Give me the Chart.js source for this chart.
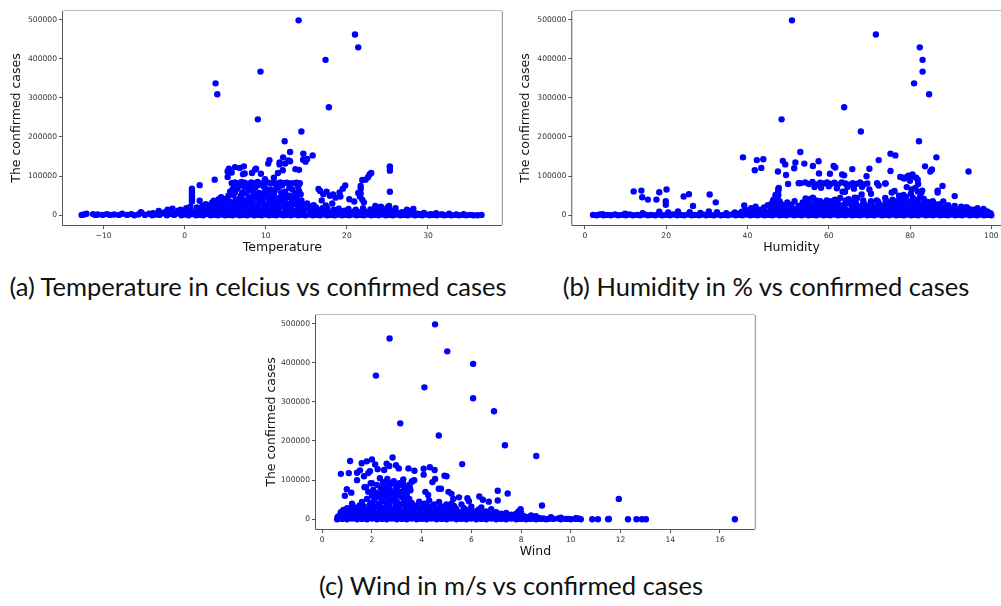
<!DOCTYPE html>
<html>
<head>
<meta charset="utf-8">
<script src="https://cdn.jsdelivr.net/npm/chart.js@4.4.0/dist/chart.umd.min.js"></script>
<style>
  body { margin: 0; width: 1001px; height: 606px; overflow: hidden; background: #fff; position: relative; }
  canvas { position: absolute; }
  .caption { position: absolute; width: 600px; text-align: center; white-space: nowrap;
             font-family: Lato, sans-serif; font-size: 25.5px; line-height: 30px; color: #111; }
</style>
</head>
<body>
<canvas id="tempChart" width="505" height="260" style="left:0px;top:0px"></canvas>
<canvas id="humidityChart" width="505" height="260" style="left:509px;top:0px"></canvas>
<canvas id="windChart" width="505" height="260" style="left:253px;top:304px"></canvas>
<div class="caption" style="left:-42px;top:271px">(a) Temperature in celcius vs confirmed cases</div>
<div class="caption" style="left:466px;top:271px">(b) Humidity in % vs confirmed cases</div>
<div class="caption" style="left:211px;top:570px">(c) Wind in m/s vs confirmed cases</div>
<script>
// tick labels
const caseTicks = [0, 100000, 200000, 300000, 400000, 500000];
const tempTicks = [-10, 0, 10, 20, 30];
const humidityTicks = [0, 20, 40, 60, 80, 100];
const windTicks = [0, 2, 4, 6, 8, 10, 12, 14, 16];

// [temperature in celcius, confirmed cases in thousands]
const tempPoints = [
  [-12.7,1],[-12.4,2],[-12.1,4],[-11.3,3],[-11.0,1],[-10.7,2],[-10.1,1],[-9.6,3],[-9.2,1],[-8.7,2],[-8.1,1],[-7.7,4],
  [-7.1,1],[-6.6,3],[-6.2,0],[-5.7,2],[-5.3,6],[-4.9,1],[-4.4,4],[-4.0,0],[-3.6,2],[-3.1,1],[-2.7,5],[-2.2,0],
  [-1.8,3],[-1.3,1],[-0.9,6],[-0.4,0],[0.1,2],[0.5,0],[1.0,3],[1.4,0],[1.9,1],[2.3,0],[2.8,3],[3.2,0],[3.7,1],
  [4.1,0],[4.6,2],[5.0,0],[5.5,1],[5.9,0],[6.4,2],[6.8,0],[7.3,1],[7.7,0],[8.2,2],[8.6,0],[9.1,1],[9.5,0],
  [10.0,2],[10.4,0],[10.9,1],[11.3,0],[11.8,2],[12.2,0],[12.7,1],[13.1,0],[13.6,2],[14.0,0],[14.5,1],[14.9,0],
  [15.4,2],[15.8,0],[16.3,1],[16.7,0],[17.2,2],[17.6,0],[18.1,1],[18.5,0],[19.0,2],[19.4,0],[19.9,1],[20.3,0],
  [20.8,2],[21.2,0],[21.7,1],[22.1,0],[22.6,2],[23.0,0],[23.5,1],[23.9,0],[24.4,2],[24.8,0],[25.3,1],[25.7,0],
  [26.2,2],[26.6,0],[27.1,1],[27.5,0],[28.0,2],[28.4,0],[28.9,1],[29.3,0],[29.8,2],[30.2,0],[30.7,1],[31.1,0],
  [31.6,2],[32.0,0],[32.5,1],[32.9,0],[33.4,1],[33.8,0],[34.3,1],[34.7,0],[35.2,1],[35.6,0],[36.1,0],[36.6,1],
  [-5.4,8],[-3.2,11],[-2.1,14],[-1.6,9],[-0.8,12],[-0.2,7],[0.6,15],[1.2,10],[1.9,18],[2.4,12],[2.9,20],[3.3,9],
  [3.8,16],[4.4,22],[4.9,12],[5.3,19],[5.8,9],[6.3,24],[6.7,14],[7.2,20],[7.6,11],[8.1,26],[8.6,15],[9.1,21],
  [9.6,10],[10.1,25],[10.6,13],[11.1,19],[11.6,9],[12.1,22],[12.6,14],[13.1,18],[13.6,10],[14.1,20],[14.6,12],
  [15.2,17],[15.7,9],[16.3,14],[16.8,8],[17.4,12],[18.0,7],[18.6,10],[19.2,6],[19.8,9],[20.4,7],[21.0,11],
  [21.6,8],[22.2,10],[22.8,7],[23.4,12],[24.0,20],[24.5,9],[25.0,16],[25.6,11],[26.2,6],[26.8,8],[27.5,5],
  [28.1,12],[28.7,4],[29.5,6],[30.3,3],[31.0,5],[31.8,2],[32.6,4],[33.5,2],[34.4,3],
  [-3.9,5],[-2.5,7],[-1.1,4],[0.3,8],[0.8,5],[1.6,6],[2.1,9],[2.6,5],[3.5,7],[4.0,11],[4.7,6],[5.2,9],[5.7,14],
  [6.1,7],[6.6,10],[7.0,16],[7.5,6],[8.0,12],[8.4,8],[8.9,14],[9.3,6],[9.8,17],[10.3,8],[10.8,11],[11.3,15],
  [11.7,6],[12.4,9],[12.9,12],[13.3,5],[13.9,14],[14.4,7],[14.8,16],[15.5,5],[16.0,11],[16.6,4],[17.0,6],
  [17.8,4],[18.3,5],[18.9,3],[19.6,5],[20.1,4],[20.6,6],[21.3,5],[21.9,4],[22.4,6],[23.2,5],[23.7,7],[24.3,9],
  [24.8,6],[25.4,7],[26.5,4],[27.8,3],[29.1,3],[30.6,2],
  [0.2,18],[0.7,22],[1.5,20],[2.0,14],[2.7,16],[3.1,24],[3.9,19],[4.3,14],
  [15.0,24],[15.6,14],[16.1,19],[16.9,15],[17.6,18],[18.4,14],[19.0,17],[19.7,12],[20.2,16],[21.1,14],[22.0,18],
  [22.9,15],[23.8,16],[24.6,13],[25.2,24],
  [2.6,28],[3.4,33],[4.1,30],[4.8,42],[5.5,35],[6.1,29],[6.6,38],[7.3,33],[7.9,44],[8.4,31],[9.2,36],[9.8,28],
  [10.4,40],[10.9,32],[11.4,27],[12.0,36],[12.6,30],[13.2,41],[13.9,33],[14.5,27],[15.1,30],[15.9,26],
  [2.2,24],[3.0,26],[3.6,21],[4.3,29],[5.1,25],[5.9,22],[6.4,31],[6.9,26],[7.5,24],[8.2,30],[8.9,25],[9.5,32],
  [10.0,23],[10.7,27],[11.2,34],[11.8,24],[12.3,29],[12.9,24],[13.6,28],[14.3,23],[15.4,22],[16.2,20],[17.0,18],
  [4.8,34],[6.3,40],[7.7,36],[9.0,47],[10.3,50],[11.6,44],[12.7,47],[14.4,38],[8.6,55],[7.1,58],[11.1,62],
  [13.6,56],[9.9,60],[6.0,52],
  [4.6,18],[5.0,28],[5.4,50],[5.8,33],[6.2,58],[6.4,18],[6.9,48],[7.2,40],[7.6,56],[7.8,28],[8.1,65],[8.5,42],
  [8.8,22],[9.0,77],[9.3,50],[9.6,38],[10.0,68],[10.2,56],[10.5,30],[10.9,48],[11.3,76],[11.6,36],[11.9,58],
  [12.2,50],[12.6,20],[12.9,70],[13.2,30],[13.6,44],[14.0,74],[14.3,54],[5.9,66],[6.8,76],[8.0,73],[9.8,47],
  [12.0,76],[13.9,38],
  [5.8,82],[6.2,84],[6.6,81],[7.0,85],[7.4,83],[7.8,80],[8.2,84],[8.6,82],[9.0,85],[9.4,81],[9.8,83],[10.2,84],
  [10.6,82],[11.0,83],[11.4,81],[11.8,84],[12.2,82],[12.6,83],[13.0,81],[13.4,82],[13.8,83],[14.2,82],
  [5.6,60],[6.1,75],[6.5,68],[7.0,52],[7.4,72],[7.9,63],[8.3,48],[8.7,70],[9.2,57],[9.7,74],[10.1,46],[10.6,66],
  [11.0,55],[11.5,71],[11.9,44],[12.4,60],[12.9,50],[13.3,66],[13.8,47],[14.1,62],[6.8,43],[8.0,38],[9.4,40],
  [10.8,36],[12.3,39],[13.5,35],[5.2,40],[4.5,46],
  [0.9,68],[0.9,63],[0.9,58],[0.9,52],[0.9,46],[0.9,41],[0.9,35],[1.85,77],[1.85,37],[3.7,91],[3.6,37],[4.2,41],
  [-0.5,14],[-1.5,17],
  [5.3,98],[5.3,112],[5.45,119],[5.8,109],[6.2,123],[6.8,121],[7.3,125],[7.2,105],[7.4,107],[8.3,108],[8.7,117],
  [8.8,119],[9.4,106],[10.3,132],[10.45,141],[11.7,135],[11.7,130],[11.5,108],[12.1,115],[12.14,148],[12.4,132],
  [12.8,140],[13.0,138],[13.0,161.5],[13.65,118],[14.1,116],[14.6,142],[14.9,137],[15.1,144],[14.63,157],
  [15.78,153],[12.33,189],[14.39,214],[11.0,96],[9.9,92],
  [16.5,67],[16.7,62],[17.1,54],[17.5,60],[17.9,50],[18.3,53],[18.6,45],[19.1,58],[19.5,68],[19.8,76],[19.2,48],
  [20.3,41],[18.2,30],[16.9,38],[17.4,25],[20.9,35],[21.4,57],[21.7,75],[21.7,67],[21.7,55],[21.9,40],[21.6,48],
  [22.1,33],[21.9,90],[22.3,91],[22.6,97],[22.8,104],[23.0,108],[25.3,125],[25.3,121],[25.3,114],[25.3,60],
  [24.2,22],[25.0,20],[26.0,18],[23.5,24],[27.4,14],[28.2,16],
  [14.05,498],[21.0,462],[21.4,429],[17.37,397],[9.35,367],[3.81,337],[4.02,309],[17.78,276],[9.02,245]
];

// [humidity in %, confirmed cases in thousands]
const humidityPoints = [
  [2.0,1],[2.9,0],[3.7,2],[4.6,0],[5.6,1],[6.4,0],[7.4,2],[8.2,0],[9.2,1],[10.1,0],[11.0,2],[11.8,0],[12.8,1],
  [13.6,0],[14.6,2],[15.5,0],[16.3,1],[17.3,0],[18.2,2],[19.0,0],[20.0,1],[20.9,0],[21.7,2],[22.7,0],[23.6,1],
  [24.4,0],[25.4,2],[26.3,0],[27.1,1],[28.1,0],[29.0,2],[29.8,0],[30.8,1],[31.7,0],[32.5,2],[33.5,0],[34.4,1],
  [35.2,0],[36.2,2],[37.1,0],[38.0,1],[38.8,0],[39.8,2],[40.7,0],[41.5,1],[42.5,0],[43.4,2],[44.2,0],[45.2,1],
  [46.1,0],[46.9,2],[47.9,0],[48.8,1],[49.6,0],[50.6,2],[51.5,0],[52.3,1],[53.3,0],[54.2,2],[55.0,0],[56.0,1],
  [56.9,0],[57.7,2],[58.7,0],[59.6,1],[60.4,0],[61.4,2],[62.3,0],[63.1,1],[64.1,0],[65.0,2],[65.8,0],[66.8,1],
  [67.7,0],[68.5,2],[69.5,0],[70.4,1],[71.2,0],[72.2,2],[73.1,0],[73.9,1],[74.9,0],[75.8,2],[76.6,0],[77.6,1],
  [78.5,0],[79.3,2],[80.3,0],[81.2,1],[82.0,0],[83.0,2],[83.9,0],[84.7,1],[85.7,0],[86.6,2],[87.4,0],[88.4,1],
  [89.3,0],[90.1,2],[91.1,0],[92.0,1],[92.8,0],[93.8,2],[94.7,0],[95.5,1],[96.5,0],[97.4,2],[98.2,0],[99.2,1],
  [100.0,0],
  [4.4,3],[9.9,4],[14.2,5],[18.3,9],[20.5,7],[22.9,10],[25.8,8],[28.4,6],[30.5,10],[32.5,8],[34.8,5],[36.9,7],
  [38.6,9],[39.5,14],[40.6,7],[41.7,12],[42.8,6],[43.9,15],[44.9,9],[45.9,18],[46.8,11],[47.7,22],[48.6,13],
  [49.5,20],[50.4,8],[51.3,16],[52.2,10],[53.1,19],[54.0,12],[54.9,24],[55.8,9],[56.7,17],[57.6,13],[58.5,21],
  [59.4,8],[60.3,15],[61.2,11],[62.1,23],[63.0,14],[63.9,19],[64.8,10],[65.7,17],[66.6,12],[67.5,21],[68.4,9],
  [69.3,16],[70.2,13],[71.1,22],[72.0,10],[72.9,18],[73.8,14],[74.7,25],[75.6,11],[76.5,20],[77.4,15],[78.3,24],
  [79.2,12],[80.1,27],[81.0,16],[81.9,30],[82.8,14],[83.7,23],[84.6,11],[85.5,19],[86.4,13],[87.3,17],[88.2,9],
  [89.1,15],[90.0,11],[90.9,14],[91.8,8],[92.7,18],[93.6,10],[94.5,16],[95.4,9],[96.3,12],[97.2,7],[98.1,16],
  [99.0,10],[99.8,5],
  [38.2,5],[39.1,3],[40.2,4],[41.1,9],[42.2,3],[43.0,8],[44.6,4],[45.5,10],[46.5,6],[47.3,14],[48.2,8],[49.1,12],
  [50.0,5],[50.9,11],[51.8,6],[52.7,13],[53.6,7],[54.5,10],[55.4,15],[56.3,6],[57.2,11],[58.1,8],[59.0,14],
  [59.9,6],[60.8,12],[61.7,7],[62.6,16],[63.5,8],[64.4,13],[65.3,6],[66.2,11],[67.1,8],[68.0,14],[68.9,6],
  [69.8,10],[70.7,7],[71.6,15],[72.5,6],[73.4,12],[74.3,9],[75.2,16],[76.1,7],[77.0,12],[77.9,9],[78.8,18],
  [79.7,8],[80.6,14],[81.5,9],[82.4,20],[83.3,8],[84.2,15],[85.1,7],[86.0,12],[86.9,6],[87.8,13],[88.7,6],
  [89.6,9],[90.5,5],[91.4,10],[92.3,4],[93.2,8],[94.1,4],[95.0,7],[95.9,4],[96.8,6],[97.7,5],[98.6,4],[99.5,3],
  [40.9,18],[42.0,22],[43.1,14],[44.1,20],[45.0,26],[46.0,30],[46.2,16],[47.9,36],[48.9,18],[49.8,33],[50.7,20],
  [51.6,36],[52.5,17],[53.4,26],[54.3,18],[55.2,33],[56.0,27],[56.9,38],[57.8,18],[58.7,31],[59.5,17],[60.4,36],
  [61.3,20],[62.2,33],[63.1,19],[64.0,29],[64.9,41],[65.8,23],[66.7,30],[67.6,17],[68.5,38],[69.4,22],[70.3,30],
  [71.2,18],[72.1,35],[73.0,23],[73.9,44],[74.8,18],[75.7,40],[76.6,28],[77.5,21],[78.4,37],[79.3,19],[80.2,35],
  [81.1,24],[82.0,40],[82.9,22],[83.8,33],[84.7,20],[85.6,36],[86.5,18],[87.4,24],[88.3,16],[89.2,21],[90.1,14],
  [91.0,17],[91.9,12],[92.8,14],[93.7,20],[94.6,11],[95.5,14],[96.4,8],[97.3,11],[98.2,9],[99.1,6],
  [47.2,28],[49.0,25],[50.8,27],[52.6,24],[54.4,29],[56.2,22],[58.0,26],[59.8,23],[61.6,28],[63.4,25],[65.2,30],
  [67.0,24],[68.8,27],[70.6,25],[72.4,29],[74.2,22],[76.0,27],[77.8,30],[79.6,24],[81.4,32],[83.2,28],[85.0,25],
  [86.8,22],[88.6,20],[90.4,18],
  [46.3,38],[47.0,45],[47.6,52],[48.2,30],[53.6,33],[54.6,40],[55.5,42],[57.0,28],[57.9,36],[60.6,32],[61.5,40],
  [62.8,44],[64.2,38],[66.2,35],[67.0,44],[68.5,30],[70.4,36],[71.8,38],[74.0,34],[75.3,30],[76.8,36],[78.0,40],
  [79.6,33],[80.7,45],[81.6,38],[82.5,48],[83.4,42],[84.3,34],[85.9,30],[87.2,28],[88.2,35],[89.4,26],[91.0,24],
  [92.6,22],[94.0,20],[96.6,18],
  [47.5,58],[47.6,63],[47.6,67],[47.7,70],[47.4,48],[46.9,52],[46.6,42],
  [53.0,82],[54.2,84],[55.1,80],[56.0,85],[57.0,79],[57.9,83],[58.8,81],[59.6,84],[60.5,80],[61.4,83],[62.3,79],
  [63.2,84],[64.1,81],[65.0,78],[65.9,82],[66.8,80],[67.7,84],[68.6,79],[69.5,81],[56.5,72],[58.1,70],[60.0,74],
  [62.0,69],[64.6,72],[66.2,68],[68.2,73],[70.0,66],[70.4,55],[68.1,53],[64.0,60],[63.4,60],[66.4,45],[59.5,38],
  [56.1,45],[54.3,43],
  [77.6,98],[78.6,94],[79.6,101],[80.6,104],[81.5,96],[80.0,88],[79.2,72],[80.4,66],[81.9,61],[82.8,58],[81.3,70],
  [82.0,80],[83.0,63],[78.4,52],[77.3,50],[76.2,62],[75.5,58],[79.0,47],[80.2,55],[74.3,36],[71.9,82],[73.9,81],
  [72.3,76],
  [12.0,61],[13.9,63],[14.1,46],[15.5,40],[17.6,40],[18.3,59],[19.9,36],[20.1,66],[19.9,27],[24.3,48],[25.6,54],
  [26.6,24],[30.7,53],[32.2,33],[39.2,25],
  [38.9,148],[42.3,141],[43.9,143],[41.8,115],[43.4,121],[48.7,139],[49.3,130],[47.5,112],[49.5,103],[51.8,135],
  [51.5,120],[54.0,132],[56.1,126],[57.5,138],[57.6,107],[50.0,80],[52.6,82],[61.2,126],[61.6,122],[60.3,106],
  [63.3,104],[63.8,102],[65.8,118],[70.0,119],[69.3,100],[72.3,141],[75.2,157],[76.4,153],[75.2,113],[74.0,81],
  [86.5,148],[85.4,117],[85.0,112],[83.7,125],[80.6,101],[79.2,97],[78.3,96],[81.9,91],[94.4,112],[88.0,75],
  [91.0,49],[86.8,63],[86.8,58],[53.0,161.5],
  [50.95,498],[71.6,462],[82.4,429],[83.1,397],[83.1,367],[81.0,337],[84.7,309],[63.8,276],[48.4,245],[67.9,214],
  [82.2,189]
];

// [wind in m/s, confirmed cases in thousands]
const windPoints = [
  [0.6,0],[0.8,1],[1.0,0],[1.2,2],[1.4,0],[1.6,1],[1.8,0],[2.0,2],[2.2,0],[2.4,1],[2.6,0],[2.8,2],[3.0,0],
  [3.2,1],[3.4,0],[3.6,2],[3.8,0],[4.0,1],[4.2,0],[4.4,2],[4.6,0],[4.8,1],[5.0,0],[5.2,2],[5.4,0],[5.6,1],
  [5.8,0],[6.0,2],[6.2,0],[6.4,1],[6.6,0],[6.8,2],[7.0,0],[7.2,1],[7.4,0],[7.6,2],[7.8,0],[8.0,1],[8.2,0],
  [8.4,1],[8.6,0],[8.8,1],[9.0,0],[9.3,1],[9.6,0],[9.8,1],[10.0,0],[10.2,1],[10.4,0],[10.86,0],[11.09,0],
  [11.5,0],[11.53,1],[12.3,0],[12.64,0],[12.86,0],[13.02,0],[16.6,0],
  [0.62,6],[0.7,10],[0.8,13],[0.9,16],[1.0,20],[1.1,14],[1.25,22],[1.4,18],[1.55,25],[1.7,16],[1.85,20],[2.0,28],
  [2.15,15],[2.3,24],[2.45,19],[2.6,30],[2.75,17],[2.9,26],[3.05,21],[3.2,18],[3.35,27],[3.5,15],[3.65,22],
  [3.8,13],[3.95,19],[4.1,24],[4.25,12],[4.4,18],[4.55,14],[4.7,22],[4.85,11],[5.0,16],[5.15,26],[5.3,12],
  [5.45,18],[5.6,10],[5.75,15],[5.9,9],[6.05,20],[6.2,12],[6.35,16],[6.5,10],[6.65,14],[6.8,8],[6.95,12],
  [7.1,7],[7.3,10],[7.5,6],[7.7,9],[7.9,5],[8.1,8],[8.3,4],[8.5,6],[8.75,3],
  [0.7,4],[0.9,7],[1.1,5],[1.3,9],[1.5,6],[1.7,10],[1.9,5],[2.1,11],[2.3,7],[2.5,12],[2.7,6],[2.9,10],[3.1,7],
  [3.3,13],[3.5,6],[3.7,10],[3.9,5],[4.1,9],[4.3,6],[4.5,11],[4.7,5],[4.9,8],[5.1,6],[5.3,9],[5.5,5],[5.7,8],
  [5.9,4],[6.1,7],[6.3,5],[6.5,6],[6.7,4],[6.9,6],[7.1,3],[7.3,5],[7.5,3],[7.7,4],[7.9,2],[8.1,3],[8.3,2],
  [8.5,3],[8.7,2],[8.9,2],[9.1,1],[9.5,2],[9.9,1],[10.3,2],
  [0.75,18],[0.85,24],[0.95,10],[1.05,27],[1.15,8],[1.2,32],[1.35,13],[1.45,26],[1.6,12],[1.65,34],[1.75,24],
  [1.9,14],[1.95,42],[2.05,21],[2.2,33],[2.25,12],[2.4,30],[2.55,16],[2.65,45],[2.8,22],[2.95,36],[3.0,14],
  [3.1,28],[3.25,40],[3.3,10],[3.45,36],[3.55,24],[3.7,28],[3.75,16],[3.9,30],[4.0,14],[4.15,22],[4.3,26],
  [4.45,10],[4.6,20],[4.75,30],[4.8,16],[4.95,24],[5.05,10],[5.2,20],[5.35,28],[5.5,14],[5.65,20],[5.8,24],
  [5.95,13],[6.1,17],[6.25,22],[6.4,9],[6.55,16],[6.7,11],[6.85,18],[7.0,10],[7.2,14],[7.4,9],[7.6,12],[7.8,8],
  [8.0,10],[8.2,6],[8.6,8],[8.0,16],[7.9,20],
  [1.3,30],[1.6,44],[1.9,36],[2.1,48],[2.3,40],[2.5,55],[2.7,34],[2.9,47],[3.0,60],[3.15,38],[3.3,52],[3.45,30],
  [3.6,42],[3.8,35],[4.0,28],[4.2,36],[4.4,32],[4.6,27],[4.9,33],[5.1,30],[5.4,25],[5.7,28],[6.0,22],[6.3,25],
  [6.6,20],[7.0,18],[7.4,16],[7.8,14],[8.4,10],[9.2,5],[9.6,4],[10.2,3],
  [1.5,35],[1.8,52],[2.0,40],[2.2,58],[2.4,46],[2.6,38],[2.8,54],[3.0,44],[3.1,36],[3.3,46],[3.5,52],[3.7,33],
  [3.9,45],[4.1,40],[4.3,48],[4.5,38],[4.7,44],[5.0,38],[5.3,34],[5.6,38],[6.0,32],[6.4,30],[6.8,26],[1.2,40],
  [1.0,28],[2.5,68],[3.0,72],[2.7,78],
  [2.15,68],[2.4,74],[2.5,85],[2.7,92],[2.8,70],[3.0,80],[3.1,92],[3.3,76],[3.5,88],[2.35,55],[2.75,48],[3.4,58],
  [2.0,60],[1.85,70],
  [2.2,88],[2.35,80],[2.45,95],[2.55,72],[2.65,84],[2.75,66],[2.85,91],[2.95,76],[3.05,86],[3.15,70],[3.25,93],
  [3.35,62],[3.45,80],[3.55,74],[2.3,64],[2.6,58],[2.9,62],[3.2,56],[1.95,92],[2.05,75],[3.6,96],[3.7,100],
  [3.4,68],[1.7,82],[1.4,100],
  [0.75,116],[1.12,149],[1.07,118],[0.99,77],[0.91,60],[1.17,68],[1.4,119],[1.52,125],[1.59,143],[1.79,148],
  [2.0,153],[1.68,110],[1.85,118],[1.92,123],[1.76,82],[2.13,140],[2.23,128],[2.0,92],[2.49,126],[2.59,142],
  [2.7,136],[2.83,158],[2.97,138],[2.62,103],[2.88,97],[3.26,102],[3.08,130],[3.47,130],[3.71,124],[3.62,97],
  [3.52,82],[3.26,85],[2.32,105],[2.46,88],
  [4.08,129],[4.33,133],[4.08,114],[4.52,126],[4.54,103],[5.0,110],[4.92,111],[4.43,95],[4.69,78],[4.78,78],
  [4.15,70],[4.26,62],[5.08,70],[5.2,65],[5.27,52],[5.2,40],[5.5,56],[5.84,54],[5.9,46],[6.32,58],[6.46,50],
  [6.7,45],[7.06,73],[7.46,66],[7.06,48],[7.98,26],[8.84,35],[11.93,52],[5.63,141],
  [4.54,498],[2.71,462],[5.03,429],[6.07,397],[2.16,367],[4.11,337],[6.07,309],[6.91,276],[3.14,245],[4.69,214],
  [7.35,189],[8.61,161.5]
];

document.addEventListener('DOMContentLoaded', function () {
  const tickFont = { family: 'DejaVu Sans', size: 7.6 };
  const titleFont = { family: 'DejaVu Sans', size: 12.5 };

  // draws the matplotlib style frame round the plot area
  const axesBox = {
    id: 'axesBox',
    afterDraw(chart) {
      const { ctx, chartArea: a } = chart;
      ctx.save();
      ctx.lineWidth = 1;
      ctx.strokeStyle = '#bbb';
      ctx.beginPath(); ctx.moveTo(a.left, a.top - 0.5); ctx.lineTo(a.right, a.top - 0.5); ctx.stroke();
      ctx.strokeStyle = '#888';
      ctx.beginPath(); ctx.moveTo(a.right + 0.5, a.top); ctx.lineTo(a.right + 0.5, a.bottom); ctx.stroke();
      ctx.strokeStyle = '#555';
      ctx.beginPath(); ctx.moveTo(a.left - 0.5, a.top); ctx.lineTo(a.left - 0.5, a.bottom + 0.5);
      ctx.lineTo(a.right, a.bottom + 0.5); ctx.stroke();
      ctx.restore();
    }
  };

  // matplotlib writes negative ticks with a real minus sign
  const tickText = v => String(v).replace('-', '\u2212');

  function createScatterChart(id, points, xMin, xMax, xTicks, xLabel, yAxisWidth, yTitlePad) {
    const ctx = document.getElementById(id).getContext('2d');
    new Chart(ctx, {
      type: 'scatter',
      data: {
        datasets: [{
          data: points.map(p => ({ x: p[0], y: p[1] * 1000 })),
          backgroundColor: '#0000ff',
          borderWidth: 0,
          pointRadius: 3.2,
          pointHoverRadius: 3.2
        }]
      },
      options: {
        responsive: false,
        animation: false,
        events: [],
        layout: { padding: { top: 11, right: 2, left: 0, bottom: 0 } },
        plugins: { legend: { display: false }, tooltip: { enabled: false } },
        scales: {
          x: {
            type: 'linear',
            min: xMin,
            max: xMax,
            afterBuildTicks: s => { s.ticks = xTicks.map(v => ({ value: v })); },
            afterFit: s => { s.height = 35; },
            grid: { drawOnChartArea: false, tickLength: 4, color: '#555' },
            border: { display: false },
            ticks: { font: tickFont, color: '#333', padding: 2, autoSkip: false, maxRotation: 0, callback: tickText },
            title: { display: true, text: xLabel, font: titleFont, color: '#111', padding: { top: 0, bottom: 5 } }
          },
          y: {
            min: -24850,
            max: 521850,
            afterBuildTicks: s => { s.ticks = caseTicks.map(v => ({ value: v })); },
            afterFit: s => { s.width = yAxisWidth; },
            grid: { drawOnChartArea: false, tickLength: 4, color: '#555' },
            border: { display: false },
            ticks: { font: tickFont, color: '#333', padding: 2, autoSkip: false, callback: tickText },
            title: { display: true, text: 'The confirmed cases', font: titleFont, color: '#111',
                     padding: { top: yTitlePad, bottom: 0 } }
          }
        }
      },
      plugins: [axesBox]
    });
  }

  createScatterChart('tempChart', tempPoints, -15.0, 39.1, tempTicks, 'Temperature', 63, 9.5);
  createScatterChart('humidityChart', humidityPoints, -3.1, 104.8, humidityTicks, 'Humidity', 63.3, 9.5);
  createScatterChart('windChart', windPoints, -0.25, 17.4, windTicks, 'Wind', 63, 11.2);
});
</script>
</body>
</html>
